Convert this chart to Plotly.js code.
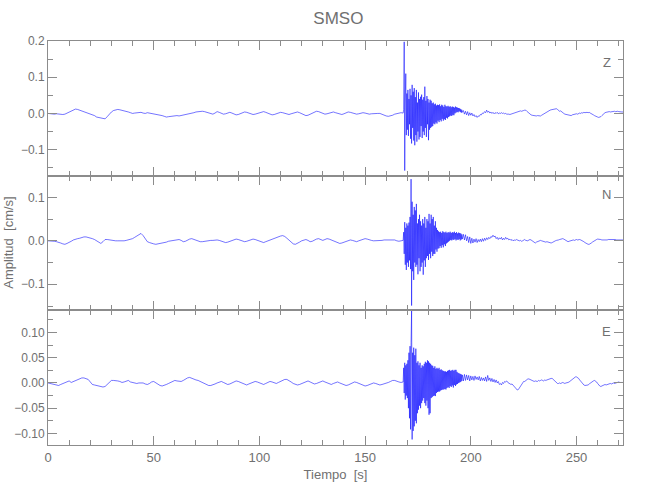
<!DOCTYPE html>
<html>
<head>
<meta charset="utf-8">
<script src="https://cdn.plot.ly/plotly-3.0.1.min.js"></script>
<style>html,body{margin:0;padding:0;background:#fff}#chart{width:650px;height:500px}</style>
</head>
<body>
<div id="chart"></div>
<script>
// ---- Data ----
// Segment timing: pre-event 0..168 s every 1 s, coda 168..196 s every 0.25 s, post 196..272 s every 0.5 s
var preStart = 0, preDt = 1;
var codaStart = 168, codaDt = 0.25;
var postStart = 196, postDt = 0.5;

var channels = ['Z', 'N', 'E'];

// Z component [cm/s]
var zPre = [
 0.000,-0.001,-0.001,-0.002,-0.001,-0.002,-0.002,-0.003,-0.002, 0.001,
 0.004, 0.007, 0.010, 0.012, 0.011, 0.009, 0.008, 0.006, 0.004, 0.002,
 0.000,-0.003,-0.006,-0.010,-0.011,-0.013,-0.014,-0.015,-0.009,-0.002,
 0.004, 0.008, 0.010, 0.011, 0.010, 0.009, 0.007, 0.005, 0.004, 0.002,
 0.000, 0.001, 0.002, 0.003, 0.003, 0.001, 0.000, 0.002, 0.001,-0.001,
-0.002,-0.001,-0.003,-0.004,-0.006,-0.008,-0.010,-0.009,-0.008,-0.006,
-0.005,-0.006,-0.007,-0.006,-0.004,-0.002,-0.001, 0.000, 0.001, 0.002,
 0.004, 0.005, 0.006, 0.006, 0.005, 0.003, 0.001,-0.001,-0.002, 0.001,
 0.005, 0.003, 0.000,-0.002,-0.001, 0.002, 0.003, 0.001,-0.002,-0.004,
-0.003,-0.001, 0.002, 0.004, 0.003, 0.001,-0.001,-0.003,-0.002, 0.000,
 0.002, 0.004, 0.005, 0.003, 0.000,-0.002,-0.004,-0.003,-0.001, 0.001,
 0.003, 0.002, 0.000,-0.002,-0.003,-0.001, 0.001, 0.003, 0.004, 0.002,
-0.001,-0.004,-0.006,-0.005,-0.002, 0.001, 0.004, 0.006, 0.005, 0.002,
 0.000,-0.002,-0.001, 0.001, 0.003, 0.004, 0.002, 0.000,-0.002,-0.003,
-0.001, 0.002, 0.004, 0.003, 0.001,-0.001,-0.002,-0.001, 0.001, 0.002,
 0.001,-0.001,-0.002,-0.001, 0.000, 0.001, 0.000, 0.000,-0.003,-0.005,
-0.007,-0.008,-0.007,-0.005,-0.002, 0.000, 0.001, 0.002, 0.001
];
var zCoda = [
 0.002, 0.010, 0.198,-0.158,
 0.040, 0.110,-0.060, 0.055,
-0.045, 0.065,-0.062, 0.040,
-0.030, 0.068,-0.070, 0.050,
-0.083, 0.079,-0.040, 0.060,
-0.075, 0.070,-0.088, 0.045,
-0.060, 0.065,-0.078, 0.030,
-0.050, 0.058,-0.072, 0.040,
-0.065, 0.046,-0.035, 0.052,
-0.068, 0.038,-0.050, 0.045,
-0.060, 0.074,-0.040, 0.035,
-0.065, 0.048,-0.030, 0.040,
-0.074, 0.030,-0.045, 0.038,
-0.040, 0.035,-0.037, 0.028,
-0.035, 0.030,-0.028, 0.025,
-0.030, 0.027,-0.025, 0.022,
-0.028, 0.024,-0.020, 0.023,
-0.024, 0.025,-0.018, 0.020,
-0.022, 0.024,-0.015, 0.022,
-0.020, 0.018,-0.016, 0.024,
-0.018, 0.020,-0.012, 0.019,
-0.014, 0.021,-0.010, 0.018,
-0.008, 0.020,-0.006, 0.017,
-0.007, 0.019,-0.004, 0.018,
-0.005, 0.016, 0.000, 0.019,
 0.002, 0.017, 0.004, 0.016,
 0.003, 0.015, 0.006, 0.014,
 0.004, 0.012, 0.002, 0.010,
 0.003
];
var zPost = [
 0.003, 0.008,-0.002, 0.006,-0.004, 0.005,-0.006, 0.002,-0.005, 0.001,
-0.007,-0.003,-0.009,-0.006,-0.011,-0.007,-0.008,-0.003,-0.004, 0.001,
 0.000, 0.005, 0.002, 0.009, 0.003, 0.006, 0.001, 0.004, 0.000, 0.003,
-0.001, 0.002, 0.000, 0.003,-0.001, 0.001, 0.000, 0.002, 0.000, 0.001,
-0.001, 0.000,-0.002,-0.001,-0.002,-0.003,-0.002,-0.001, 0.000, 0.002,
 0.003, 0.004, 0.005, 0.004, 0.006, 0.007, 0.006, 0.008, 0.008, 0.009,
 0.009, 0.006, 0.003, 0.000,-0.002,-0.004,-0.005,-0.006,-0.006,-0.007,
-0.007,-0.006,-0.007,-0.007,-0.007,-0.005,-0.003,-0.001, 0.001, 0.003,
 0.004, 0.006, 0.007, 0.009, 0.010, 0.011, 0.010, 0.012, 0.013, 0.013,
 0.011, 0.008, 0.006, 0.007, 0.004, 0.002, 0.000,-0.002,-0.003,-0.004,
-0.005,-0.006,-0.006,-0.006,-0.004,-0.003,-0.002,-0.003,-0.001,-0.002,
 0.000, 0.001, 0.000, 0.002, 0.001, 0.003, 0.002, 0.003, 0.003, 0.002,
 0.003, 0.001, 0.000,-0.002,-0.004,-0.006,-0.008,-0.009,-0.010,-0.011,
-0.011,-0.009,-0.006,-0.003, 0.000, 0.002, 0.003, 0.004, 0.005, 0.005,
 0.004, 0.005, 0.004, 0.005, 0.006, 0.005, 0.006, 0.006, 0.005, 0.004,
 0.005, 0.004, 0.004
];

// N component [cm/s]
var nPre = [
 0.000, 0.000,-0.001,-0.001,-0.002,-0.003,-0.005,-0.007,-0.008,-0.006,
-0.004,-0.001, 0.002, 0.004, 0.005, 0.006, 0.008, 0.009, 0.009, 0.008,
 0.006, 0.005, 0.003, 0.000,-0.004,-0.006,-0.002, 0.003, 0.003, 0.002,
 0.001, 0.001, 0.000, 0.000, 0.000,-0.001, 0.000, 0.001, 0.002, 0.003,
 0.005, 0.008, 0.011, 0.014, 0.017, 0.012, 0.004,-0.002,-0.004,-0.006,
-0.007,-0.008,-0.007,-0.006,-0.005,-0.005,-0.003,-0.001, 0.000, 0.001,
 0.002, 0.003, 0.003, 0.001,-0.002,-0.001, 0.002, 0.004, 0.005, 0.003,
 0.002, 0.000,-0.002,-0.002,-0.001,-0.001, 0.000, 0.001, 0.001, 0.002,
 0.002, 0.001,-0.001,-0.003,-0.004,-0.003,-0.001, 0.001, 0.003, 0.004,
 0.003, 0.001,-0.001,-0.002,-0.001, 0.001, 0.003, 0.004, 0.003, 0.001,
-0.001,-0.003,-0.004,-0.002, 0.000, 0.002, 0.004, 0.006, 0.008, 0.010,
 0.011, 0.012, 0.010, 0.006, 0.001,-0.004,-0.007,-0.008,-0.006,-0.003,
 0.000, 0.002, 0.003, 0.001,-0.002,-0.001, 0.002, 0.004, 0.005, 0.003,
 0.001, 0.003, 0.005, 0.004, 0.002,-0.001,-0.003,-0.005,-0.006,-0.005,
-0.003,-0.001, 0.001, 0.002, 0.001,-0.001,-0.002, 0.000, 0.002, 0.004,
 0.005, 0.004, 0.002, 0.001, 0.000, 0.000, 0.001, 0.000, 0.001, 0.002,
 0.002, 0.002, 0.001, 0.002, 0.002, 0.000,-0.001, 0.000, 0.001
];
var nCoda = [
 0.001, 0.020,-0.030, 0.043,
-0.055, 0.030,-0.067, 0.040,
-0.050, 0.035,-0.060, 0.042,
-0.045, 0.055,-0.065, 0.142,
-0.149, 0.090,-0.070, 0.060,
-0.090, 0.078,-0.050, 0.070,
-0.060, 0.085,-0.055, 0.040,
-0.077, 0.050,-0.040, 0.060,
-0.070, 0.045,-0.060, 0.035,
-0.050, 0.050,-0.078, 0.040,
-0.045, 0.055,-0.060, 0.030,
-0.040, 0.050,-0.035, 0.045,
-0.044, 0.062,-0.030, 0.040,
-0.040, 0.060,-0.025, 0.050,
-0.035, 0.055,-0.030, 0.035,
-0.030, 0.045,-0.020, 0.030,
-0.025, 0.025,-0.018, 0.022,
-0.017, 0.020,-0.012, 0.021,
-0.016, 0.018,-0.010, 0.022,
-0.015, 0.020,-0.008, 0.019,
-0.012, 0.021,-0.006, 0.018,
-0.004, 0.020,-0.002, 0.019,
 0.000, 0.021, 0.002, 0.018,
 0.001, 0.020, 0.003, 0.019,
 0.002, 0.021, 0.004, 0.018,
 0.001, 0.020, 0.003, 0.017,
 0.002, 0.019, 0.004, 0.018,
 0.001, 0.017, 0.003, 0.015,
 0.004
];
var nPost = [
 0.004, 0.015, 0.002, 0.014, 0.000, 0.010,-0.004, 0.009,-0.006, 0.006,
-0.005, 0.004,-0.003, 0.005,-0.004, 0.003,-0.002, 0.004,-0.002, 0.005,
-0.001, 0.006, 0.001, 0.007, 0.003, 0.008, 0.005, 0.010, 0.008, 0.013,
 0.009, 0.011, 0.005, 0.008, 0.003, 0.007, 0.004, 0.008, 0.002, 0.006,
 0.003, 0.008, 0.004, 0.006, 0.002, 0.004, 0.001, 0.003, 0.000, 0.002,
 0.001, 0.003, 0.002, 0.001, 0.000, 0.001,-0.001, 0.000, 0.001, 0.003,
 0.001, 0.000, 0.000, 0.002, 0.003, 0.002, 0.000,-0.002,-0.004,-0.005,
-0.003,-0.002, 0.000, 0.000, 0.001, 0.000,-0.001,-0.001,-0.002,-0.003,
-0.002,-0.003,-0.003,-0.004,-0.005,-0.004,-0.002, 0.000, 0.000, 0.001,
 0.001, 0.002, 0.003, 0.004, 0.005, 0.005, 0.004, 0.002, 0.000,-0.002,
-0.002,-0.001, 0.000, 0.001, 0.002, 0.002, 0.001, 0.002, 0.003, 0.002,
 0.003, 0.003, 0.002, 0.001, 0.000,-0.002,-0.004,-0.006,-0.007,-0.008,
-0.008,-0.007,-0.005,-0.003,-0.001, 0.001, 0.002, 0.003, 0.004, 0.004,
 0.004, 0.003, 0.002, 0.002, 0.001, 0.002, 0.001, 0.002, 0.003, 0.003,
 0.004, 0.004, 0.004, 0.003, 0.004, 0.003, 0.002, 0.002, 0.001, 0.002,
 0.002, 0.001, 0.002
];

// E component [cm/s]
var ePre = [
 0.000,-0.001,-0.003,-0.004,-0.005,-0.005,-0.003,-0.001, 0.000, 0.002,
 0.004, 0.001, 0.003, 0.005, 0.007, 0.009, 0.010, 0.010, 0.009, 0.007,
 0.002,-0.003,-0.004,-0.005,-0.006,-0.007,-0.008,-0.007,-0.003, 0.002,
 0.005, 0.005, 0.005, 0.004, 0.003, 0.001, 0.002, 0.004, 0.005, 0.002,
 0.001,-0.001,-0.001, 0.000, 0.000, 0.000,-0.002,-0.003,-0.001, 0.002,
 0.003, 0.000,-0.003,-0.005,-0.006,-0.005,-0.003,-0.001, 0.001, 0.003,
 0.005, 0.004, 0.003, 0.003, 0.005, 0.008, 0.010, 0.011, 0.009, 0.008,
 0.006, 0.005, 0.003, 0.002, 0.000,-0.003,-0.005,-0.005,-0.004,-0.002,
 0.000, 0.002, 0.003, 0.001,-0.001,-0.003,-0.002, 0.000, 0.002, 0.004,
 0.003, 0.001,-0.001,-0.003,-0.004,-0.002, 0.000, 0.002, 0.003, 0.002,
 0.000,-0.002,-0.003,-0.001, 0.001, 0.003, 0.002, 0.000,-0.001, 0.001,
 0.003, 0.005, 0.007, 0.007, 0.005, 0.002,-0.001,-0.003,-0.004,-0.003,
-0.001, 0.001, 0.003, 0.004, 0.002, 0.000,-0.002,-0.001, 0.001, 0.003,
 0.004, 0.002, 0.000,-0.002,-0.003,-0.001, 0.001, 0.002, 0.000,-0.002,
-0.004,-0.005,-0.004,-0.002, 0.000, 0.002, 0.001,-0.001,-0.003,-0.005,
-0.006,-0.005,-0.003,-0.001, 0.000,-0.001,-0.003,-0.004,-0.003,-0.002,
-0.001, 0.001, 0.003, 0.005, 0.005, 0.003, 0.002, 0.001, 0.002
];
var eCoda = [
 0.002, 0.030,-0.020, 0.040,
-0.033, 0.035,-0.025, 0.038,
-0.030, 0.045,-0.050, 0.060,
-0.070, 0.073,-0.092, 0.080,
 0.143,-0.112, 0.060,-0.095,
 0.070,-0.086, 0.055,-0.075,
 0.068,-0.080, 0.040,-0.060,
 0.043,-0.053, 0.035,-0.045,
 0.040,-0.050, 0.030,-0.040,
 0.035,-0.035, 0.033,-0.030,
 0.038,-0.040, 0.042,-0.045,
 0.040,-0.035, 0.045,-0.050,
 0.043,-0.063, 0.040,-0.060,
 0.038,-0.030, 0.035,-0.028,
 0.034,-0.026, 0.030,-0.025,
 0.033,-0.026, 0.028,-0.020,
 0.030,-0.018, 0.028,-0.017,
 0.030,-0.017, 0.026,-0.015,
 0.027,-0.014, 0.025,-0.013,
 0.024,-0.013, 0.023,-0.012,
 0.023,-0.013, 0.022,-0.010,
 0.024,-0.008, 0.025,-0.010,
 0.026,-0.006, 0.024,-0.008,
 0.025,-0.005, 0.026,-0.009,
 0.024,-0.004, 0.026,-0.006,
 0.026,-0.003, 0.022,-0.002,
 0.020, 0.000, 0.019, 0.001,
 0.018, 0.002, 0.017, 0.004,
 0.016
];
var ePost = [
 0.016, 0.004, 0.017, 0.005, 0.016, 0.006, 0.015, 0.004, 0.014, 0.006,
 0.013, 0.005, 0.014, 0.007, 0.012, 0.006, 0.013, 0.004, 0.011, 0.005,
 0.010, 0.004, 0.012, 0.003, 0.015, 0.005, 0.010, 0.003, 0.009, 0.002,
 0.007, 0.001, 0.006, 0.000, 0.003,-0.003,-0.001,-0.004, 0.001,-0.001,
 0.003, 0.002, 0.004, 0.001, 0.000,-0.002,-0.003,-0.002,-0.004,-0.006,
-0.009,-0.012,-0.014,-0.013,-0.010,-0.006,-0.002, 0.001, 0.003, 0.003,
 0.005, 0.006, 0.008, 0.008, 0.007, 0.005, 0.004, 0.003, 0.003, 0.004,
 0.004, 0.003, 0.005, 0.004, 0.005, 0.006, 0.005, 0.004, 0.006, 0.005,
 0.006, 0.007, 0.008, 0.008, 0.009, 0.009, 0.007, 0.004, 0.002, 0.000,
-0.001,-0.001, 0.000,-0.001, 0.000, 0.001, 0.000,-0.001, 0.000, 0.000,
 0.001, 0.002, 0.004, 0.006, 0.008, 0.010, 0.011, 0.012, 0.012, 0.011,
 0.009, 0.006, 0.003, 0.000,-0.002,-0.004,-0.005,-0.005,-0.005,-0.004,
-0.002, 0.000, 0.002, 0.003, 0.004, 0.005, 0.004, 0.002,-0.001,-0.004,
-0.006,-0.007,-0.006,-0.004,-0.003,-0.003,-0.004,-0.003,-0.002,-0.001,
-0.001,-0.002,-0.001, 0.000,-0.001, 0.000, 0.001, 0.001, 0.002, 0.001,
 0.001, 0.002, 0.001
];

// Axis tick values
var xTickVals = [0, 50, 100, 150, 200, 250];

// ---- Build traces ----
function series(pre, coda, post) {
  var t = [], y = [], i;
  for (i = 0; i < pre.length; i++) { t.push(preStart + i * preDt); y.push(pre[i]); }
  for (i = 1; i < coda.length; i++) { t.push(codaStart + i * codaDt); y.push(coda[i]); }
  for (i = 1; i < post.length; i++) { t.push(postStart + i * postDt); y.push(post[i]); }
  return {t: t, y: y};
}
var sz = series(zPre, zCoda, zPost);
var sn = series(nPre, nCoda, nPost);
var se = series(ePre, eCoda, ePost);

var lineStyle = {color: '#0000ff', width: 0.55};
var traces = [
  {x: sz.t, y: sz.y, xaxis: 'x3', yaxis: 'y3', type: 'scatter', mode: 'lines', line: lineStyle, hoverinfo: 'skip'},
  {x: sn.t, y: sn.y, xaxis: 'x2', yaxis: 'y2', type: 'scatter', mode: 'lines', line: lineStyle, hoverinfo: 'skip'},
  {x: se.t, y: se.y, xaxis: 'x',  yaxis: 'y',  type: 'scatter', mode: 'lines', line: lineStyle, hoverinfo: 'skip'}
];

var FONT = '"Liberation Sans", Arial, sans-serif';
var GRAY = '#8c8c8c';
var TXT = '#707070';

function xAx(anchor, labels) {
  return {
    anchor: anchor, domain: [0, 1], range: [0, 272], showgrid: false, zeroline: false,
    showline: true, linecolor: GRAY, linewidth: 1, mirror: 'ticks',
    ticks: 'inside', ticklen: 9, tickcolor: GRAY, tickwidth: 1,
    tickvals: xTickVals, showticklabels: labels,
    minor: {dtick: 10, tick0: 0, ticks: 'inside', ticklen: 5, tickcolor: GRAY, tickwidth: 1, showgrid: false},
    tickfont: {family: FONT, size: 13, color: TXT}
  };
}
function yAx(anchor, dom, rng, dt, mdt, fmt) {
  return {
    anchor: anchor, domain: dom, range: rng, showgrid: false, zeroline: false,
    showline: true, linecolor: GRAY, linewidth: 1, mirror: 'ticks',
    ticks: 'inside', ticklen: 9, tickcolor: GRAY, tickwidth: 1,
    dtick: dt, tick0: 0, tickformat: fmt,
    minor: {dtick: mdt, tick0: 0, ticks: 'inside', ticklen: 5, tickcolor: GRAY, tickwidth: 1, showgrid: false},
    tickfont: {family: FONT, size: 12, color: TXT}
  };
}

var xb = xAx('y', true);
xb.title = {text: 'Tiempo  [s]', font: {family: FONT, size: 13, color: TXT}, standoff: 6};

var layout = {
  width: 650, height: 500,
  margin: {l: 48, r: 27, t: 41, b: 55},
  paper_bgcolor: '#ffffff', plot_bgcolor: '#ffffff',
  showlegend: false,
  title: {text: 'SMSO', font: {family: FONT, size: 17, color: TXT}, xref: 'paper', x: 0.505, xanchor: 'center', yref: 'container', y: 0.963, yanchor: 'middle'},
  xaxis: xb,
  xaxis2: xAx('y2', false),
  xaxis3: xAx('y3', false),
  yaxis:  yAx('x',  [0, 0.3333], [-0.123, 0.144], 0.05, 0.025, '.2f'),
  yaxis2: yAx('x2', [0.3333, 0.6667], [-0.16, 0.15], 0.1, 0.05, '.1f'),
  yaxis3: yAx('x3', [0.6667, 1], [-0.172, 0.2002], 0.1, 0.05, '.1f'),
  annotations: [
    {text: 'Amplitud  [cm/s]', xref: 'paper', yref: 'paper', x: -0.07, y: 0.5, textangle: -90, showarrow: false, xanchor: 'center', yanchor: 'middle', font: {family: FONT, size: 13, color: TXT}},
    {text: channels[0], xref: 'paper', yref: 'paper', x: 0.972, y: 0.948, showarrow: false, xanchor: 'center', yanchor: 'middle', font: {family: FONT, size: 13, color: TXT}},
    {text: channels[1], xref: 'paper', yref: 'paper', x: 0.972, y: 0.619, showarrow: false, xanchor: 'center', yanchor: 'middle', font: {family: FONT, size: 13, color: TXT}},
    {text: channels[2], xref: 'paper', yref: 'paper', x: 0.972, y: 0.281, showarrow: false, xanchor: 'center', yanchor: 'middle', font: {family: FONT, size: 13, color: TXT}}
  ]
};

Plotly.newPlot('chart', traces, layout, {staticPlot: true, displayModeBar: false});
</script>
</body>
</html>
